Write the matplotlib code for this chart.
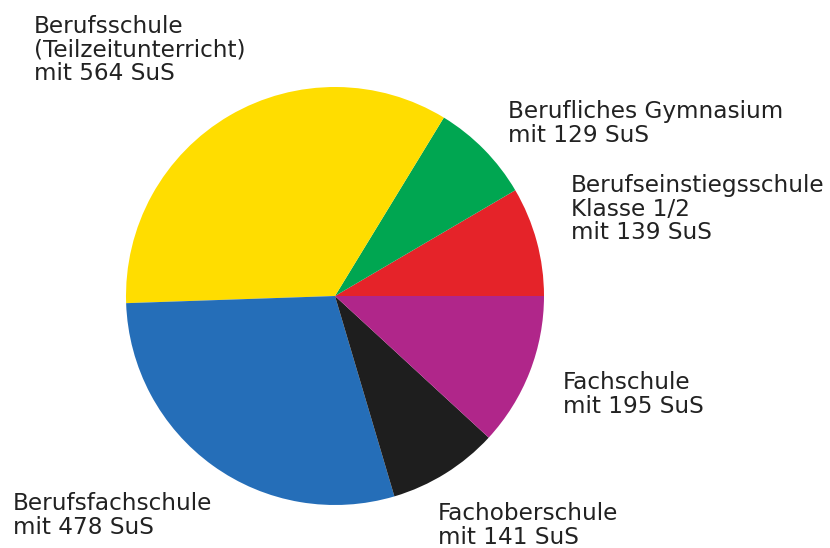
import matplotlib
matplotlib.use("Agg")
import matplotlib.pyplot as plt

# Schülerzahlen je Schulform (SuS), gegen den Uhrzeigersinn ab 0°
schulformen = [
    "Berufseinstiegsschule\nKlasse 1/2",
    "Berufliches Gymnasium",
    "Berufsschule\n(Teilzeitunterricht)",
    "Berufsfachschule",
    "Fachoberschule",
    "Fachschule",
]
schueler = [139, 129, 564, 478, 141, 195]
farben = ["#E52329", "#00A651", "#FFDD00", "#256EB8", "#1E1E1E", "#B0268A"]

# Beschriftungspositionen (Pixel, linke obere Ecke)
label_pos = [
    (571, 174),
    (508, 100),
    (34, 15),
    (13, 492),
    (438, 502),
    (563, 371),
]

W, H = 830, 548
fig = plt.figure(figsize=(W / 100, H / 100), dpi=100)
ax = fig.add_axes([0, 0, 1, 1])
ax.set_xlim(0, W)
ax.set_ylim(0, H)
ax.set_aspect("equal")
ax.axis("off")

cx, cy, r = 335, H - 296, 209
ax.pie(schueler, colors=farben, startangle=0, counterclock=True,
       center=(cx, cy), radius=r, frame=True,
       wedgeprops=dict(linewidth=0))
ax.set_xlim(0, W)
ax.set_ylim(0, H)
ax.axis("off")

for name, n, (x, y) in zip(schulformen, schueler, label_pos):
    ax.text(x, H - y, f"{name}\nmit {n} SuS", ha="left", va="top",
            fontsize=16.7, color="#222222", linespacing=1.03,
            family="DejaVu Sans")

fig.savefig("out.png", dpi=100)
